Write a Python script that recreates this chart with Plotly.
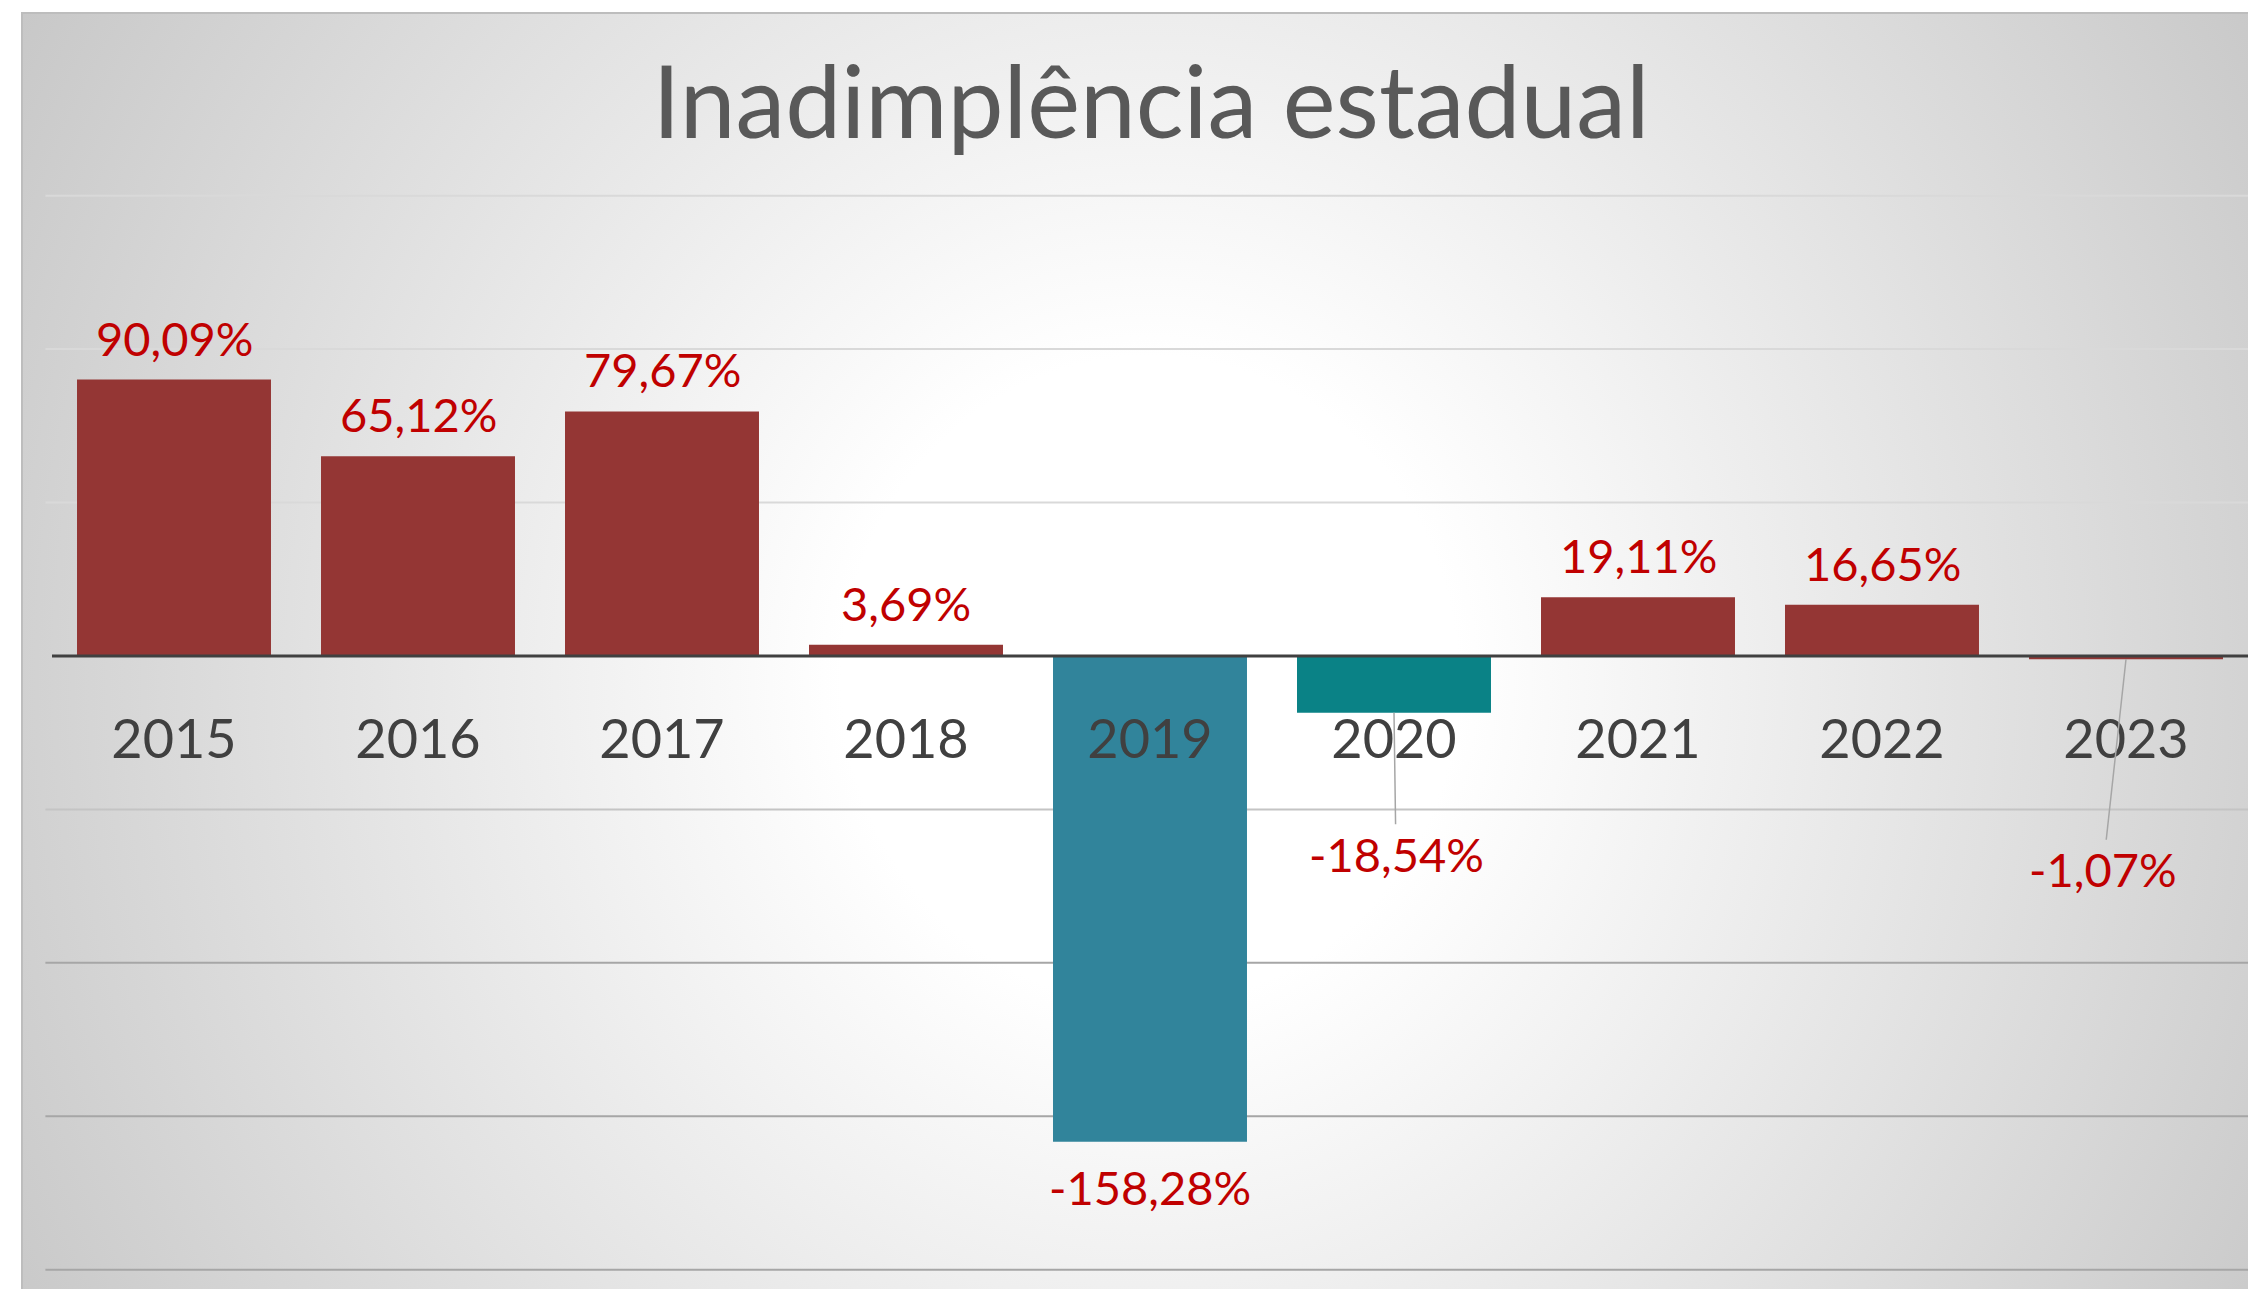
import base64
import plotly.graph_objects as go

# ---- data ----
years = ["2015", "2016", "2017", "2018", "2019", "2020", "2021", "2022", "2023"]
values = [90.09, 65.12, 79.67, 3.69, -158.28, -18.54, 19.11, 16.65, -1.07]
bar_colors = ["#943634", "#943634", "#943634", "#943634", "#31849B",
              "#0A8286", "#943634", "#943634", "#943634"]
grid_values = [150, 100, 50, -50, -100, -150, -200]
title_text = "Inadimplência estadual"

W, H = 2248, 1289
ML, MR, MT, MB = 52, 0, 165, 4
Y_RANGE = [-205, 160]
PW = W - ML - MR
PH = H - MT - MB

# ---- background (radial gradient chart area) ----
svg = f'''<svg xmlns="http://www.w3.org/2000/svg" width="{W}" height="{H}" viewBox="0 0 {W} {H}" preserveAspectRatio="none">
<defs><radialGradient id="g" gradientUnits="userSpaceOnUse" cx="0" cy="0" r="1"
 gradientTransform="translate(1150,680) scale(1400,1470)">
<stop offset="0" stop-color="#ffffff"/><stop offset="0.22" stop-color="#ffffff"/>
<stop offset="1" stop-color="#c2c2c2"/></radialGradient></defs>
<rect x="0" y="0" width="{W}" height="{H}" fill="#ffffff"/>
<rect x="22" y="13" width="{W}" height="{H}" fill="url(#g)" stroke="#bdbdbd" stroke-width="2"/>
</svg>'''
bg_uri = "data:image/svg+xml;base64," + base64.b64encode(svg.encode()).decode()

xpos = list(range(len(years)))

fig = go.Figure()
fig.add_trace(go.Bar(
    x=xpos, y=values, marker=dict(color=bar_colors, line=dict(width=0)),
    hoverinfo="skip", showlegend=False,
))

def fmt(v):
    return f"{v:.2f}".replace(".", ",") + "%"

LABEL_FONT = dict(family="Lato, sans-serif", size=47, color="#C00000")
leader = {"2020": (2, 141), "2023": (-23, 210)}
for i, (yr, v) in enumerate(zip(years, values)):
    if yr in leader:
        ax, ay = leader[yr]
        fig.add_annotation(x=i, y=v, text=fmt(v), showarrow=True, arrowhead=0,
                           arrowwidth=1.5, arrowcolor="#a6a6a6", ax=ax, ay=ay,
                           font=LABEL_FONT, standoff=0)
    elif v >= 0:
        fig.add_annotation(x=i, y=v, text=fmt(v), showarrow=False,
                           yanchor="middle", yshift=42, font=LABEL_FONT)
    else:
        fig.add_annotation(x=i, y=v, text=fmt(v), showarrow=False,
                           yanchor="middle", yshift=-45, font=LABEL_FONT)

# gridlines
for g in grid_values:
    if g > 0:
        col = "#d9d9d9"
    elif g == -50:
        col = "#c4c4c4"
    else:
        col = "#a6a6a6"
    fig.add_shape(type="line", xref="paper", yref="y", x0=-0.003, x1=1, y0=g, y1=g,
                  line=dict(color=col, width=2), layer="below")
# zero axis line
fig.add_shape(type="line", xref="paper", yref="y", x0=0, x1=1, y0=0, y1=0,
              line=dict(color="#404040", width=3), layer="above")

zero_pos = (0 - Y_RANGE[0]) / (Y_RANGE[1] - Y_RANGE[0])

fig.update_layout(
    width=W, height=H,
    margin=dict(l=ML, r=MR, t=MT, b=MB, autoexpand=False),
    paper_bgcolor="#ffffff", plot_bgcolor="rgba(0,0,0,0)",
    bargap=0.205,
    title=dict(text=title_text, x=1151 / W, xanchor="center",
               y=1 - 103 / H, yanchor="middle",
               font=dict(family="Lato, sans-serif", size=100, color="#595959")),
    xaxis=dict(range=[-0.5, len(years) - 0.5], anchor="free", position=zero_pos,
               tickmode="array", tickvals=xpos, ticktext=years,
               showline=False, showgrid=False, zeroline=False, ticks="",
               tickfont=dict(family="Lato, sans-serif", size=54, color="#404040"),
               ticklabelstandoff=47),
    yaxis=dict(range=Y_RANGE, showgrid=False, zeroline=False,
               showticklabels=False, showline=False, ticks=""),
    images=[dict(source=bg_uri, xref="paper", yref="paper",
                 x=-ML / PW, y=1 + MT / PH, sizex=W / PW, sizey=H / PH,
                 xanchor="left", yanchor="top", sizing="stretch", layer="below")],
)

fig.write_html(
    "out.html",
    config={"displayModeBar": False},
    post_script="document.body.style.margin='0';document.body.style.overflow='hidden';",
)
